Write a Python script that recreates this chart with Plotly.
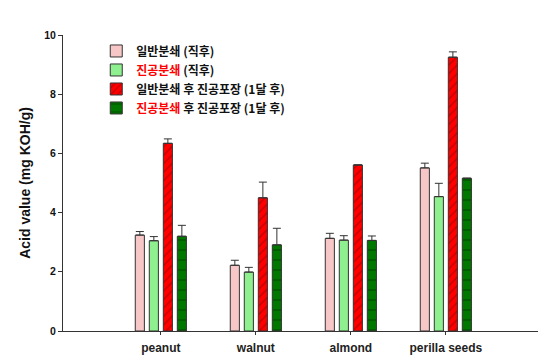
import plotly.graph_objects as go

categories = ["peanut", "walnut", "almond", "perilla seeds"]
series_names = [
    "일반분쇄 (직후)",
    "<span style='color:#ff0000'>진공분쇄</span> (직후)",
    "일반분쇄 후 진공포장 (1달 후)",
    "<span style='color:#ff0000'>진공분쇄</span> 후 진공포장 (1달 후)",
]
normal_now = [3.24, 2.22, 3.13, 5.51]
normal_now_err = [0.12, 0.17, 0.17, 0.16]
vacuum_now = [3.05, 1.99, 3.07, 4.54]
vacuum_now_err = [0.14, 0.16, 0.15, 0.45]
normal_pack = [6.34, 4.50, 5.61, 9.25]
normal_pack_err = [0.15, 0.53, 0.0, 0.18]
vacuum_pack = [3.20, 2.91, 3.06, 5.16]
vacuum_pack_err = [0.37, 0.56, 0.15, 0.0]

fills = ["#f7c6c6", "#8ef08e", "#ff0000", "#007800"]
patterns = [
    dict(shape=""),
    dict(shape=""),
    dict(shape="/", fgcolor="#8b0000", size=6, solidity=0.25, bgcolor="#ff0000", fillmode="overlay"),
    dict(shape="-", fgcolor="#003000", size=10, solidity=0.15, bgcolor="#007800", fillmode="overlay"),
]
values = [normal_now, vacuum_now, normal_pack, vacuum_pack]
errors = [normal_now_err, vacuum_now_err, normal_pack_err, vacuum_pack_err]

fig = go.Figure()
for name, v, e, c, p in zip(series_names, values, errors, fills, patterns):
    fig.add_trace(go.Bar(
        x=categories, y=v, name=name,
        marker=dict(color=c, line=dict(color="#333333", width=1), pattern=p),
        error_y=dict(type="data", array=e, arrayminus=[0]*len(e), symmetric=False,
                     color="#333333", thickness=1, width=4),
    ))

fig.update_layout(
    width=538, height=357,
    margin=dict(l=63, r=0, t=35, b=26),
    paper_bgcolor="white", plot_bgcolor="white",
    barmode="group", bargap=0.41, bargroupgap=0.35,
    font=dict(family="Liberation Sans, Arial, Noto Sans CJK KR", color="#111111"),
    legend=dict(x=0.07, y=0.995, xanchor="left", yanchor="top",
                bgcolor="rgba(0,0,0,0)", tracegroupgap=0,
                font=dict(family="Noto Sans CJK KR", size=12, color="#111111", weight="bold")),
    showlegend=True,
)
fig.update_xaxes(
    range=[-1.03, 3.97], showline=True, linecolor="#333333", linewidth=1,
    ticks="outside", ticklen=3, tickcolor="#333333", ticklabelstandoff=3,
    tickfont=dict(family="Liberation Sans, Arial", size=12, color="#222222", weight="bold"),
    showgrid=False, zeroline=False,
)
fig.update_yaxes(
    range=[0, 10], tickvals=[0, 2, 4, 6, 8, 10], showline=True, linecolor="#333333", linewidth=1,
    ticks="outside", ticklen=4, tickcolor="#333333",
    tickfont=dict(family="Liberation Sans, Arial", size=10.5, color="#111111", weight="bold"),
    title=dict(text="Acid value (mg KOH/g)", standoff=10,
               font=dict(family="Liberation Sans, Arial", size=14, color="#111111", weight="bold")),
    showgrid=False, zeroline=False,
)

fig.write_html("out.html")
